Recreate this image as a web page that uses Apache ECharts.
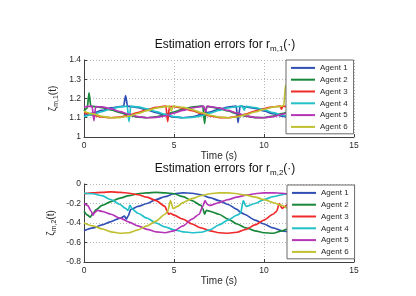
<!DOCTYPE html>
<html><head><meta charset="utf-8">
<script src="https://cdn.jsdelivr.net/npm/echarts@6/dist/echarts.min.js"></script>
<style>html,body{margin:0;padding:0;background:#fff}#c{width:416px;height:296px}</style>
</head><body><div id="c"></div>
<script>
const agentNames = ['Agent 1','Agent 2','Agent 3','Agent 4','Agent 5','Agent 6'];
const colors = ['#2f4fb5','#17873a','#f02a2a','#22c0c8','#b634b6','#c0c030'];
const xTicks = [0, 5, 10, 15];

// r_{m,1} estimation errors (top)
const top1 = [[0,1.110],[0.5,1.124],[1,1.138],[1.5,1.151],[2,1.158],[2.2,1.160],[2.31,1.215],[2.42,1.160],[2.5,1.159],[3,1.153],[3.5,1.141],[4,1.127],[4.5,1.113],[5,1.103],[5.5,1.100],[6,1.105],[6.5,1.116],[7,1.130],[7.5,1.144],[8,1.155],[8.45,1.160],[8.56,1.075],[8.67,1.160],[9,1.157],[9.5,1.149],[10,1.135],[10.5,1.121],[11,1.108],[11.5,1.101],[12,1.101],[12.5,1.108],[13,1.121],[13.5,1.135],[14,1.149],[14.5,1.157],[15,1.160]];
const top2 = [[0,1.135],[0.18,1.150],[0.28,1.230],[0.38,1.158],[0.5,1.159],[1,1.153],[1.5,1.141],[2,1.127],[2.5,1.113],[3,1.103],[3.5,1.100],[4,1.105],[4.5,1.116],[5,1.130],[5.5,1.144],[6,1.155],[6.5,1.160],[6.6,1.160],[6.7,1.070],[6.8,1.158],[7,1.157],[7.5,1.149],[8,1.135],[8.5,1.121],[9,1.108],[9.5,1.101],[10,1.101],[10.5,1.108],[11,1.121],[11.5,1.135],[12,1.149],[12.5,1.157],[13,1.160],[13.5,1.155],[14,1.144],[14.5,1.130],[15,1.116]];
const top3 = [[0,1.127],[0.5,1.113],[1,1.104],[1.5,1.100],[2,1.104],[2.5,1.113],[3,1.127],[3.5,1.142],[4,1.154],[4.5,1.160],[4.55,1.160],[4.65,1.080],[4.75,1.158],[5,1.158],[5.5,1.150],[6,1.137],[6.5,1.122],[7,1.109],[7.5,1.101],[8,1.100],[8.5,1.107],[9,1.119],[9.5,1.134],[10,1.148],[10.5,1.157],[10.9,1.160],[10.97,1.145],[11.05,1.160],[11.5,1.155],[12,1.145],[12.5,1.131],[13,1.117],[13.5,1.105],[14,1.100],[14.5,1.101],[15,1.109]];
const top4 = [[0,1.106],[0.5,1.118],[1,1.132],[1.5,1.146],[2,1.156],[2.4,1.160],[2.5,1.080],[2.6,1.160],[3,1.156],[3.5,1.146],[4,1.132],[4.5,1.118],[5,1.106],[5.5,1.100],[6,1.102],[6.5,1.110],[7,1.124],[7.5,1.138],[8,1.151],[8.5,1.158],[8.8,1.160],[8.9,1.140],[9.0,1.159],[9.5,1.153],[10,1.141],[10.5,1.127],[11,1.113],[11.5,1.103],[12,1.100],[12.5,1.105],[13,1.116],[13.5,1.130],[14,1.144],[14.5,1.155],[15,1.160]];
const top5 = [[0,1.156],[0.45,1.160],[0.55,1.085],[0.65,1.158],[1,1.156],[1.5,1.146],[2,1.132],[2.5,1.118],[3,1.106],[3.5,1.100],[4,1.102],[4.5,1.110],[5,1.124],[5.5,1.138],[6,1.151],[6.5,1.158],[6.65,1.160],[6.75,1.130],[6.85,1.160],[7,1.158],[7.5,1.151],[8,1.138],[8.5,1.124],[9,1.110],[9.5,1.102],[10,1.100],[10.5,1.106],[11,1.118],[11.5,1.132],[12,1.146],[12.5,1.156],[13,1.160],[13.5,1.155],[14,1.144],[14.5,1.130],[15,1.116]];
const top6 = [[0,1.134],[0.5,1.120],[1,1.107],[1.5,1.100],[2,1.101],[2.5,1.109],[3,1.122],[3.5,1.137],[4,1.150],[4.5,1.158],[4.75,1.160],[4.85,1.135],[4.95,1.160],[5.5,1.154],[6,1.142],[6.5,1.127],[7,1.113],[7.5,1.104],[8,1.100],[8.5,1.105],[9,1.116],[9.5,1.130],[10,1.144],[10.5,1.155],[11,1.160],[11.1,1.165],[11.2,1.270],[11.5,1.270],[11.8,1.160],[12,1.149],[12.5,1.135],[13,1.121],[13.5,1.108],[14,1.101],[14.5,1.101],[15,1.108]];

// r_{m,2} estimation errors (bottom)
const bot1 = [[0,-0.48],[0.5,-0.45],[1,-0.42],[1.5,-0.385],[2,-0.35],[2.25,-0.33],[2.35,-0.36],[2.45,-0.33],[2.6,-0.26],[3,-0.23],[3.5,-0.2],[4,-0.16],[4.5,-0.13],[5,-0.1],[5.5,-0.09],[6,-0.095],[6.5,-0.11],[7,-0.14],[7.5,-0.17],[8,-0.21],[8.5,-0.26],[8.7,-0.29],[8.9,-0.31],[9.5,-0.37],[10,-0.41],[10.5,-0.45],[11,-0.48],[11.5,-0.495],[12,-0.5],[12.5,-0.49],[13,-0.47],[13.5,-0.44],[14,-0.4],[14.5,-0.36],[15,-0.32]];
const bot2 = [[0,-0.28],[0.2,-0.32],[0.35,-0.34],[0.5,-0.3],[0.7,-0.26],[1,-0.22],[1.5,-0.18],[2,-0.145],[2.5,-0.12],[3,-0.1],[3.5,-0.09],[4,-0.085],[4.5,-0.09],[5,-0.1],[5.5,-0.13],[6,-0.17],[6.5,-0.22],[6.6,-0.25],[6.7,-0.31],[6.8,-0.27],[7,-0.28],[7.5,-0.31],[8,-0.36],[8.5,-0.41],[9,-0.45],[9.5,-0.48],[10,-0.5],[10.5,-0.505],[11,-0.48],[11.5,-0.45],[12,-0.41],[12.5,-0.37],[13,-0.32],[13.5,-0.28],[14,-0.24],[14.5,-0.21],[15,-0.18]];
const bot3 = [[0,-0.1],[0.5,-0.09],[1,-0.085],[1.5,-0.08],[2,-0.085],[2.5,-0.095],[3,-0.11],[3.5,-0.135],[4,-0.17],[4.5,-0.23],[4.6,-0.27],[4.7,-0.31],[4.8,-0.3],[5,-0.32],[5.5,-0.36],[6,-0.41],[6.5,-0.45],[7,-0.48],[7.5,-0.5],[8,-0.505],[8.5,-0.495],[9,-0.465],[9.5,-0.42],[10,-0.37],[10.5,-0.31],[10.7,-0.28],[10.85,-0.2],[11,-0.25],[11.5,-0.19],[12,-0.14],[12.5,-0.11],[13,-0.09],[13.5,-0.085],[14,-0.085],[14.5,-0.09],[15,-0.1]];
const bot4 = [[0,-0.095],[0.5,-0.1],[1,-0.12],[1.5,-0.16],[2,-0.21],[2.3,-0.25],[2.45,-0.27],[2.55,-0.22],[2.7,-0.26],[3,-0.3],[3.5,-0.35],[4,-0.4],[4.5,-0.44],[5,-0.47],[5.5,-0.49],[6,-0.5],[6.5,-0.495],[7,-0.47],[7.5,-0.42],[8,-0.37],[8.5,-0.32],[8.7,-0.3],[8.85,-0.17],[9,-0.23],[9.5,-0.2],[10,-0.16],[10.5,-0.13],[11,-0.11],[11.5,-0.095],[12,-0.09],[12.5,-0.09],[13,-0.1],[13.5,-0.12],[14,-0.15],[14.5,-0.19],[15,-0.23]];
const bot5 = [[0,-0.2],[0.2,-0.22],[0.4,-0.28],[0.5,-0.32],[0.6,-0.29],[0.75,-0.27],[1,-0.28],[1.5,-0.31],[2,-0.35],[2.5,-0.39],[3,-0.43],[3.5,-0.465],[4,-0.49],[4.5,-0.5],[5,-0.48],[5.5,-0.43],[6,-0.36],[6.4,-0.31],[6.6,-0.23],[6.72,-0.17],[6.85,-0.21],[7,-0.22],[7.5,-0.19],[8,-0.16],[8.5,-0.135],[9,-0.115],[9.5,-0.1],[10,-0.09],[10.5,-0.09],[11,-0.095],[11.5,-0.105],[12,-0.125],[12.5,-0.15],[13,-0.18],[13.5,-0.21],[14,-0.25],[14.5,-0.28],[15,-0.3]];
const bot6 = [[0,-0.4],[0.5,-0.43],[1,-0.46],[1.5,-0.49],[2,-0.505],[2.5,-0.5],[3,-0.47],[3.5,-0.43],[4,-0.38],[4.5,-0.31],[4.65,-0.28],[4.8,-0.17],[4.95,-0.25],[5.2,-0.23],[5.5,-0.19],[6,-0.15],[6.5,-0.12],[7,-0.1],[7.5,-0.09],[8,-0.09],[8.5,-0.1],[9,-0.115],[9.5,-0.135],[10,-0.16],[10.5,-0.19],[11,-0.22],[11.5,-0.27],[12,-0.31],[12.5,-0.35],[13,-0.4],[13.5,-0.44],[14,-0.47],[14.5,-0.49],[15,-0.5]];

const topSeries = [top1, top2, top3, top4, top5, top6];
const botSeries = [bot1, bot2, bot3, bot4, bot5, bot6];

const FONT = 'Liberation Sans, Arial, sans-serif';
const TXT = '#2a2a2a';

function xAxisCfg(grid) {
  return {
    type: 'value', gridIndex: grid, min: 0, max: 15, interval: 5,
    name: 'Time (s)', nameLocation: 'middle', nameGap: 14,
    nameTextStyle: {fontFamily: FONT, fontSize: 10, color: TXT},
    axisLine: {show: true, onZero: false, lineStyle: {color: '#404040', width: 1}},
    axisTick: {show: true, inside: true, length: 3, lineStyle: {color: '#404040'}},
    axisLabel: {fontFamily: FONT, fontSize: 8.5, color: TXT, margin: 4},
    splitLine: {show: true, lineStyle: {type: [1, 2], color: '#b8b8b8', width: 1}}
  };
}
function yAxisCfg(grid, min, max, interval, sub, gap) {
  return {
    type: 'value', gridIndex: grid, min: min, max: max, interval: interval,
    name: '{z|ζ}{s|' + sub + '}{z|(t)}', nameLocation: 'middle', nameGap: gap, nameRotate: 90,
    nameMoveOverlap: false,
    nameTextStyle: {fontFamily: FONT, color: TXT, rich: {
      z: {fontFamily: FONT, fontSize: 10, color: TXT},
      s: {fontFamily: FONT, fontSize: 7, color: TXT, padding: [6, 0, 0, 0]}
    }},
    axisLine: {show: true, onZero: false, lineStyle: {color: '#404040', width: 1}},
    axisTick: {show: true, inside: true, length: 3, lineStyle: {color: '#404040'}},
    axisLabel: {fontFamily: FONT, fontSize: 8.5, color: TXT, margin: 3},
    splitLine: {show: true, lineStyle: {type: [1, 2], color: '#b8b8b8', width: 1}}
  };
}
function titleCfg(top, sub) {
  return {
    text: '{a|Estimation errors for r}{s|' + sub + '}{a|(·)}',
    left: 220, top: top, textAlign: 'center',
    textStyle: {fontWeight: 'normal', rich: {
      a: {fontFamily: FONT, fontSize: 12, fontWeight: 'normal', color: '#111'},
      s: {fontFamily: FONT, fontSize: 8, fontWeight: 'normal', color: '#111', padding: [9, 0, 0, 0]}
    }}
  };
}
function legendCfg(idx, left, top) {
  return {
    data: agentNames, orient: 'vertical', left: left, top: top,
    icon: 'rect', itemWidth: 24, itemHeight: 2, itemGap: 0,
    padding: [2, 6, 1, 5], backgroundColor: '#fff', borderColor: '#6a6a6a', borderWidth: 1,
    textStyle: {fontFamily: FONT, fontSize: 8, color: TXT, lineHeight: 11.8},
    selectedMode: false, z: 10
  };
}

const series = [];
for (let i = 0; i < 6; i++) {
  series.push({name: agentNames[i], type: 'line', xAxisIndex: 0, yAxisIndex: 0, data: topSeries[i],
    showSymbol: false, smooth: 0.25, smoothMonotone: 'x', lineStyle: {width: 1.7, color: colors[i]}, itemStyle: {color: colors[i]}, z: 2});
}
for (let i = 0; i < 6; i++) {
  series.push({name: agentNames[i], type: 'line', xAxisIndex: 1, yAxisIndex: 1, data: botSeries[i],
    showSymbol: false, smooth: 0.25, smoothMonotone: 'x', lineStyle: {width: 1.7, color: colors[i]}, itemStyle: {color: colors[i]}, z: 2});
}

const chart = echarts.init(document.getElementById('c'), null, {renderer: 'canvas'});
chart.setOption({
  animation: false,
  backgroundColor: '#fff',
  title: [titleCfg(31, 'm,1'), titleCfg(155, 'm,2')],
  legend: [legendCfg(0, 286, 60), legendCfg(1, 287, 185)],
  grid: [
    {left: 84, top: 60, width: 270, height: 77},
    {left: 84, top: 184, width: 270, height: 78}
  ],
  xAxis: [xAxisCfg(0), xAxisCfg(1)],
  yAxis: [yAxisCfg(0, 1, 1.4, 0.1, 'm,1', 24), yAxisCfg(1, -0.8, 0, 0.2, 'm,2', 26)],
  series: series
});
</script></body></html>
